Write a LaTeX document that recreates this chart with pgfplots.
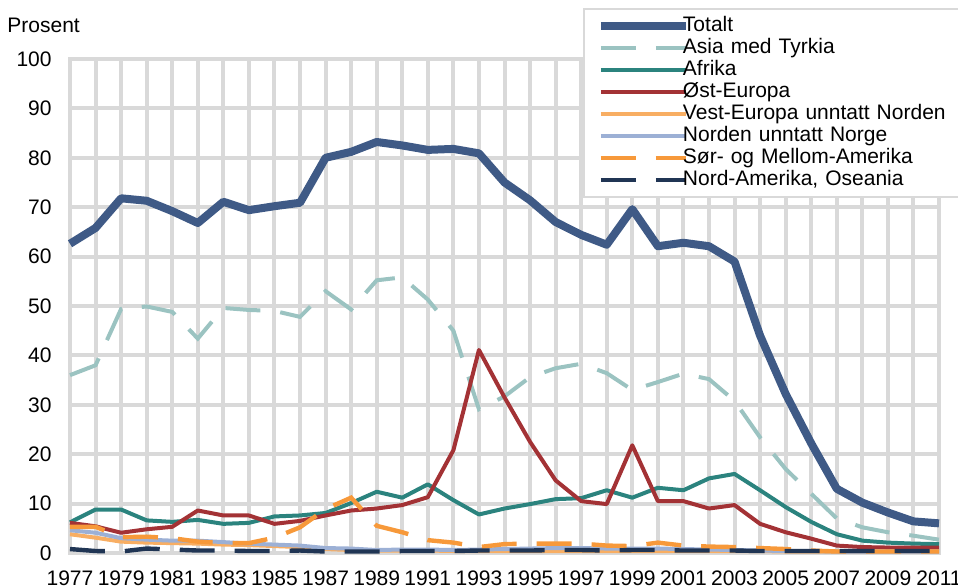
\documentclass[border=0pt]{standalone}
\usepackage{fontspec}
\setmainfont{Liberation Sans}
\usepackage{pgfplots}
\usepackage{pgfplotstable}
\pgfplotsset{compat=1.18}

\definecolor{gridgray}{HTML}{D9D9D9}
\definecolor{totc}{HTML}{3F5A86}
\definecolor{asiac}{HTML}{9BC3C1}
\definecolor{afrc}{HTML}{2B837E}
\definecolor{ostc}{HTML}{A33235}
\definecolor{vestc}{HTML}{F8AE63}
\definecolor{nordc}{HTML}{9CB0D5}
\definecolor{sorc}{HTML}{F7993A}
\definecolor{namc}{HTML}{203554}

\pgfplotstableread{
year tot asia afr ost vest nord sor nam
1977 62.6 36.0 6.2 6.1 3.8 4.6 5.3 0.8
1978 65.8 38.0 8.8 5.4 3.1 4.1 5.3 0.4
1979 71.8 49.4 8.8 4.1 2.3 3.0 3.2 0.3
1980 71.3 49.9 6.6 4.8 2.1 2.7 3.3 0.9
1981 69.2 48.8 6.3 5.3 2.0 2.5 3.0 0.7
1982 66.8 43.4 6.7 8.6 1.9 2.5 2.3 0.5
1983 71.1 49.6 5.9 7.6 1.7 2.2 2.0 0.5
1984 69.4 49.2 6.1 7.6 1.6 1.9 2.0 0.4
1985 70.2 49.0 7.4 5.9 1.4 1.7 3.1 0.4
1986 70.9 47.8 7.6 6.5 1.2 1.5 5.2 0.5
1987 80.0 53.0 8.1 7.6 0.8 1.0 8.9 0.3
1988 81.2 49.3 10.1 8.6 0.6 0.9 11.2 0.3
1989 83.2 55.2 12.4 9.0 0.5 0.6 5.5 0.3
1990 82.5 55.8 11.2 9.7 0.5 0.7 4.2 0.4
1991 81.6 51.3 13.9 11.3 0.5 0.7 2.6 0.4
1992 81.8 45.0 10.7 20.8 0.4 0.6 2.1 0.4
1993 80.9 29.1 7.8 41.1 0.4 0.7 1.2 0.5
1994 75.0 31.7 9.0 31.5 0.4 0.8 1.8 0.5
1995 71.4 35.6 9.9 22.5 0.4 0.9 1.9 0.5
1996 67.0 37.4 10.9 14.7 0.4 1.0 1.9 0.6
1997 64.4 38.3 11.1 10.5 0.4 1.0 1.9 0.6
1998 62.4 36.4 12.7 9.9 0.4 0.9 1.5 0.5
1999 69.6 33.0 11.2 21.8 0.4 0.9 1.4 0.6
2000 62.1 34.6 13.2 10.5 0.4 0.9 2.1 0.6
2001 62.8 36.3 12.7 10.5 0.4 0.8 1.5 0.5
2002 62.1 35.2 15.1 9.0 0.4 0.7 1.3 0.5
2003 59.0 30.8 16.0 9.7 0.4 0.6 1.2 0.5
2004 44.0 23.4 12.7 5.9 0.4 0.5 1.0 0.4
2005 32.2 17.0 9.3 4.2 0.3 0.4 0.8 0.4
2006 22.2 12.0 6.3 2.9 0.3 0.4 0.5 0.4
2007 13.0 7.0 3.8 1.5 0.3 0.3 0.3 0.4
2008 10.2 5.2 2.5 1.2 0.3 0.3 0.3 0.4
2009 8.2 4.2 2.1 1.1 0.3 0.3 0.3 0.4
2010 6.4 3.5 1.9 1.1 0.3 0.3 0.3 0.4
2011 6.0 2.7 1.8 1.1 0.3 0.3 0.3 0.4
}\data

\begin{document}
\begin{tikzpicture}
\path[use as bounding box, clip] (0pt,0pt) rectangle (479pt,294pt);
\node[anchor=base west, inner sep=0pt, font=\fontsize{10.5}{12}\selectfont] at (3.5pt,277.5pt) {Prosent};
\begin{axis}[
  at={(35pt,17.5pt)}, anchor=south west,
  scale only axis, width=434.5pt, height=247pt,
  xmin=1977, xmax=2011, ymin=0, ymax=100,
  xtick={1977,1979,...,2011}, minor xtick={1978,1980,...,2010},
  ytick={0,10,...,100},
  grid=both,
  major grid style={gridgray, line width=2pt},
  minor grid style={gridgray, line width=2pt},
  axis line style={gridgray, line width=2pt},
  major tick length=0pt, minor tick length=0pt,
  tick style={draw=none},
  /pgf/number format/assume math mode=true,
  xticklabel style={/pgf/number format/1000 sep={}, anchor=north, inner sep=0pt, yshift=-8.5pt, font=\fontsize{10.5}{12}\selectfont},
  yticklabel style={anchor=east, inner sep=0pt, xshift=-9pt, font=\fontsize{10.5}{12}\selectfont},
  clip=false,
  legend style={at={(axis description cs:0.5903,1.1032)}, anchor=north west,
    draw=gridgray, line width=1pt, fill=white,
    font=\fontsize{10.5}{12}\selectfont,
    inner xsep=6.5pt, inner ysep=3pt, row sep=0pt, column sep=-3.5pt,
    nodes={inner xsep=0pt, inner ysep=0.5pt, text height=7.8pt, text depth=2.2pt},
    /tikz/every even column/.append style={nodes={text width=140pt, align=left}},
    legend cell align=left},
  legend image code/.code={\draw[#1] (0pt,0pt) -- (42.5pt,0pt);},
]
\addplot[totc, line width=4pt, line join=round] table[x=year,y=tot]{\data};
\addlegendentry{Totalt}
\addplot[asiac, line width=2pt, dash pattern=on 17.5pt off 10pt] table[x=year,y=asia]{\data};
\addlegendentry{Asia med Tyrkia}
\addplot[afrc, line width=2pt, line join=round] table[x=year,y=afr]{\data};
\addlegendentry{Afrika}
\addplot[ostc, line width=2pt, line join=round] table[x=year,y=ost]{\data};
\addlegendentry{Øst-Europa}
\addplot[vestc, line width=2pt, line join=round] table[x=year,y=vest]{\data};
\addlegendentry{Vest-Europa unntatt Norden}
\addplot[nordc, line width=2pt, line join=round] table[x=year,y=nord]{\data};
\addlegendentry{Norden unntatt Norge}
\addplot[sorc, line width=2.2pt, dash pattern=on 17.5pt off 10pt] table[x=year,y=sor]{\data};
\addlegendentry{Sør- og Mellom-Amerika}
\addplot[namc, line width=2.2pt, dash pattern=on 17.5pt off 10pt] table[x=year,y=nam]{\data};
\addlegendentry{Nord-Amerika, Oseania}
\end{axis}
\end{tikzpicture}
\end{document}
